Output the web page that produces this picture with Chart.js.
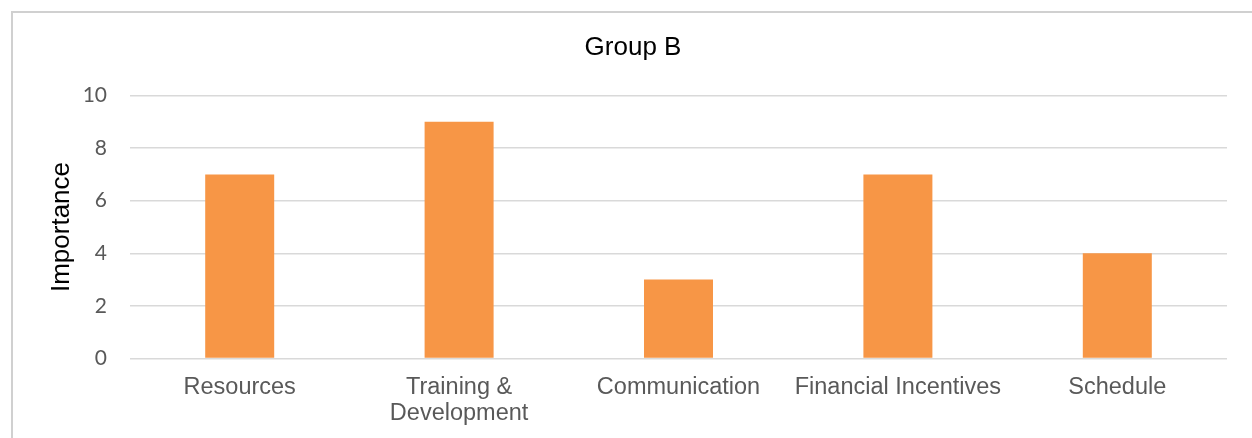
<!DOCTYPE html>
<html>
<head>
<meta charset="utf-8">
<script src="https://cdn.jsdelivr.net/npm/chart.js@4/dist/chart.umd.min.js"></script>
<style>
  html, body { margin: 0; padding: 0; background: #fff; overflow: hidden; }
  #wrap { position: relative; width: 1252px; height: 438px; }
  #frame { position: absolute; left: 11px; top: 11px; width: 1300px; height: 500px; border: 2px solid #D0D0D0; box-sizing: border-box; }
  canvas { position: absolute; left: 0; top: 0; }
</style>
</head>
<body>
<div id="wrap">
  <div id="frame"></div>
  <canvas id="c" width="1252" height="438"></canvas>
</div>
<script>
const chartTitle = "Group B";
const yAxisTitle = "Importance";
const categories = ["Resources", ["Training &", "Development"], "Communication", "Financial Incentives", "Schedule"];
const importanceValues = [7, 9, 3, 7, 4];
const yTickValues = [0, 2, 4, 6, 8, 10];

const ctx = document.getElementById('c').getContext('2d');
new Chart(ctx, {
  type: 'bar',
  data: {
    labels: categories,
    datasets: [{
      label: chartTitle,
      data: importanceValues,
      backgroundColor: '#F79646',
      borderWidth: 0,
      categoryPercentage: 1,
      barPercentage: 0.3145
    }]
  },
  options: {
    responsive: false,
    devicePixelRatio: 1,
    animation: false,
    layout: { padding: { left: 39, right: 25, top: 0, bottom: 0 } },
    plugins: {
      legend: { display: false },
      tooltip: { enabled: false },
      title: {
        display: true,
        text: chartTitle,
        color: '#000000',
        font: { family: 'Liberation Sans, Arial, sans-serif', size: 26, weight: 'normal', lineHeight: 1.2 },
        padding: { top: 32.4, bottom: 31.9 }
      }
    },
    scales: {
      x: {
        grid: { display: false, drawTicks: false },
        border: { display: false },
        ticks: {
          color: '#595959',
          font: { family: 'Liberation Sans, Arial, sans-serif', size: 23.5, lineHeight: 1.106 },
          padding: 15.7,
          maxRotation: 0,
          autoSkip: false
        },
        afterFit: (s) => { s.height = 79.5; }
      },
      y: {
        min: 0,
        max: 10,
        afterBuildTicks: (s) => { s.ticks = yTickValues.map(v => ({ value: v })); },
        grid: { color: '#D9D9D9', lineWidth: 1.5, drawTicks: false },
        border: { display: false },
        ticks: {
          color: '#595959',
          font: { family: 'Lato, sans-serif', size: 21 },
          padding: 23
        },
        title: {
          display: true,
          text: yAxisTitle,
          color: '#000000',
          font: { family: 'Liberation Sans, Arial, sans-serif', size: 26, lineHeight: 1.2 },
          padding: { top: 7, bottom: 0 }
        },
        afterFit: (s) => { s.width = 91; }
      }
    }
  }
});
</script>
</body>
</html>
